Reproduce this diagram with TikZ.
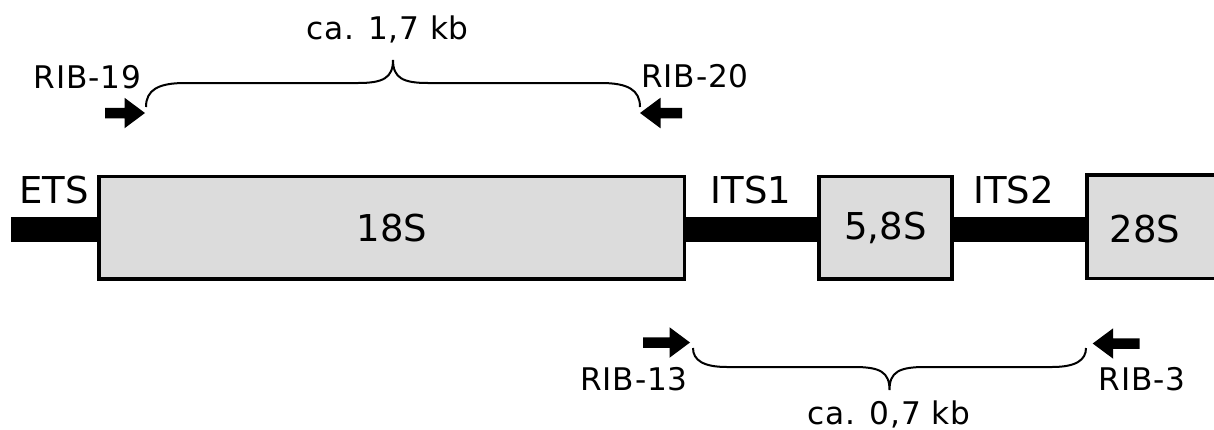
\documentclass[tikz,border=0pt]{standalone}
\usepackage{fontspec}
\setmainfont{DejaVu Sans}
\newfontfamily\lblfont[LetterSpace=2.5]{DejaVu Sans}
\definecolor{boxgray}{HTML}{DCDCDC}
\newcommand\primerarrow[4]{% tip x, tip y, direction, length
  \begin{scope}[shift={(#1,#2)},xscale=#3]
    \fill[primerfill] (0,0) -- (-20.5,-15.25) -- (-20.5,-5.25) -- (-#4,-5.25)
      -- (-#4,5.25) -- (-20.5,5.25) -- (-20.5,15.25) -- cycle;
  \end{scope}}
\begin{document}
\begin{tikzpicture}[x=0.5pt,y=-0.5pt,
  gene/.style={draw=black,line width=1.75pt,fill=boxgray,inner sep=0pt,
    font=\fontsize{18.5}{22}\selectfont},
  big/.style={font=\fontsize{18.5}{22}\selectfont,inner sep=0pt,anchor=base},
  small/.style={font=\lblfont\fontsize{15.6}{18}\selectfont,inner sep=0pt,anchor=base},
  bar/.style={draw=black,line width=12.5pt,line cap=butt},
  brace/.style={draw=black,line width=1pt},
  primerfill/.style={fill=black}]
\useasboundingbox (0,0) rectangle (1214,429);
\clip (0,0) rectangle (1214,429);
% gene boxes
\node[gene,minimum width=292.75pt,minimum height=51.25pt] (s18) at (391.75,227.75) {18S};
\node[gene,minimum width=66.5pt,minimum height=51.25pt] (s58) at (885.5,227.75) {5,8S};
\node[gene,minimum width=86.5pt,minimum height=51.75pt] (s28) at (1173.5,226.75) {};
\node[big] (t28) at (1145,242) {28S};
% spacer bar
\coordinate (ets) at (11,229.5);
\draw[bar] (ets) -- (ets -| s18.west);
\draw[bar] (ets -| s18.east) -- (ets -| s58.west);
\draw[bar] (ets -| s58.east) -- (ets -| s28.west);
% region labels
\node[big] (lets) at (54,203) {ETS};
\node[big] (lits1) at (751,203) {ITS1};
\node[big] (lits2) at (1013.5,203) {ITS2};
% primers
\primerarrow{145}{113}{1}{40}
\primerarrow{640}{113}{-1}{42}
\primerarrow{690}{342.5}{1}{47}
\primerarrow{1092.7}{343.5}{-1}{47}
\node[small] (r19) at (87.5,88) {RIB-19};
\node[small] (r20) at (695,87.3) {RIB-20};
\node[small] (r13) at (634,390) {RIB-13};
\node[small] (r3) at (1142,390.5) {RIB-3};
% braces
\draw[brace] (146,107) .. controls (146,90) and (158,83) .. (185,83) -- (358,83)
  .. controls (383,83) and (393,78) .. (393,60)
  .. controls (393,78) and (403,83) .. (428,83) -- (601,83)
  .. controls (628,83) and (640,90) .. (640,107);
\draw[brace] (693,348) .. controls (693,360) and (703,367) .. (727,367) -- (854,367)
  .. controls (880,367) and (889.5,372) .. (889.5,390)
  .. controls (889.5,372) and (899,367) .. (925,367) -- (1052,367)
  .. controls (1076,367) and (1086,360) .. (1086,348);
\node[small] (kb17) at (387.5,39) {ca. 1,7 kb};
\node[small] (kb07) at (889,424) {ca. 0,7 kb};
\end{tikzpicture}
\end{document}
